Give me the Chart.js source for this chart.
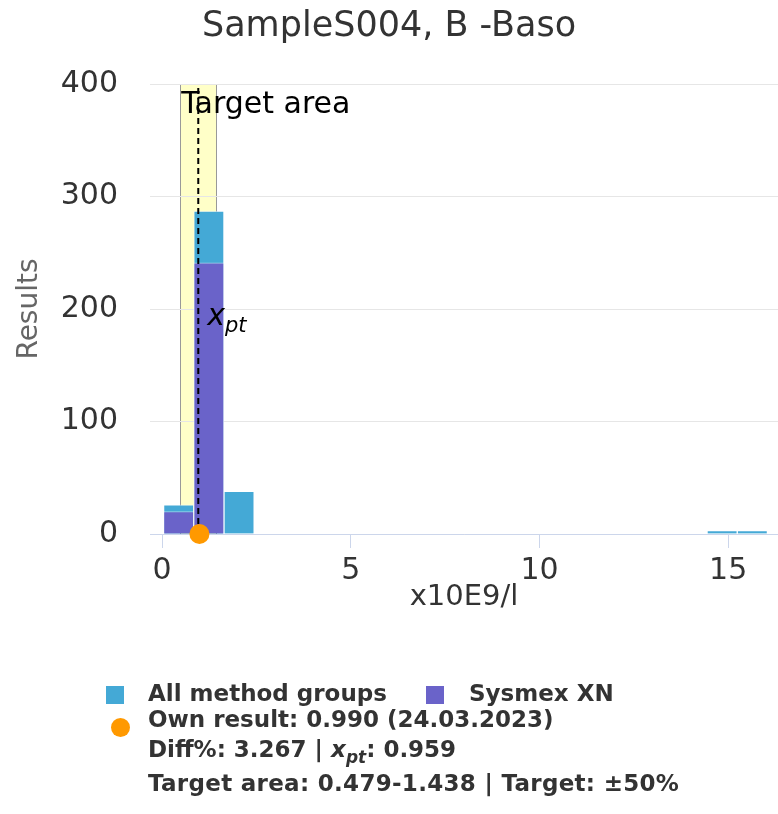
<!DOCTYPE html>
<html>
<head>
<meta charset="utf-8">
<script src="https://cdn.jsdelivr.net/npm/chart.js@4.4.0/dist/chart.umd.min.js"></script>
<style>
  body { margin: 0; background: #fff; }
  #wrap { position: relative; width: 778px; height: 814px; }
  #legend { position: absolute; left: 0; top: 0; font: bold 23px "DejaVu Sans", sans-serif; color: #333; }
  #legend .row { position: absolute; white-space: nowrap; }
  #legend .sq { position: absolute; width: 18px; height: 18px; }
  #legend .dot { position: absolute; width: 19px; height: 19px; border-radius: 50%; background: #ff9900; }
</style>
</head>
<body>
<div id="wrap">
  <canvas id="chart" width="778" height="814"></canvas>
  <div id="legend">
    <div class="sq" style="left:106px;top:686px;background:#44a9d6"></div>
    <div class="row" style="left:148px;top:680px">All method groups</div>
    <div class="sq" style="left:426px;top:686px;background:#6a63c9"></div>
    <div class="row" style="left:469px;top:680px">Sysmex XN</div>
    <div class="dot" style="left:111px;top:718px"></div>
    <div class="row" style="left:148px;top:706px">Own result: 0.990 (24.03.2023)</div>
    <div class="row" style="left:148px;top:736px">Diff%: 3.267 | <i>x<sub style="font-size:17px">pt</sub></i>: 0.959</div>
    <div class="row" style="left:148px;top:770px;letter-spacing:0.3px">Target area: 0.479-1.438 | Target: ±50%</div>
  </div>
</div>
<script>
// histogramm: mitten der klassen (breite 0.8)
const binCenters = [0.44, 1.24, 2.04, 14.84, 15.64];
const allGroups = [26, 287, 38, 3, 3];
const sysmexBins = [0.44, 1.24];
const sysmexXN = [20, 241];
const xTicks = [0, 5, 10, 15];
const yTicks = [0, 100, 200, 300, 400];

const ownResult = 0.990;
const xpt = 0.959;
const targetLow = 0.479;
const targetHigh = 1.438;

const FONT = '"DejaVu Sans", sans-serif';

const zielbereich = {
    id: 'zielbereich',
    beforeDraw(chart) {
        const { ctx, chartArea, scales } = chart;
        const l = scales.x.getPixelForValue(targetLow);
        const r = scales.x.getPixelForValue(targetHigh);
        ctx.save();
        ctx.fillStyle = '#ffffc8';
        ctx.fillRect(l, chartArea.top, r - l, chartArea.bottom - chartArea.top);
        ctx.strokeStyle = '#999999';
        ctx.lineWidth = 1;
        ctx.beginPath();
        ctx.moveTo(Math.round(l) + 0.5, chartArea.top);
        ctx.lineTo(Math.round(l) + 0.5, chartArea.bottom);
        ctx.moveTo(Math.round(r) + 0.5, chartArea.top);
        ctx.lineTo(Math.round(r) + 0.5, chartArea.bottom);
        ctx.stroke();
        ctx.restore();
    },
    afterDatasetsDraw(chart) {
        const { ctx, chartArea, scales } = chart;
        const l = scales.x.getPixelForValue(targetLow);
        const m = scales.x.getPixelForValue(xpt);
        ctx.save();
        ctx.fillStyle = '#000';
        ctx.textBaseline = 'alphabetic';
        ctx.font = '30px ' + FONT;
        ctx.fillText('Target area', l + 1, chartArea.top + 29);
        // x_pt beschriftung
        ctx.font = 'italic 30px ' + FONT;
        ctx.fillText('x', m + 9, chartArea.top + 241);
        const w = ctx.measureText('x').width;
        ctx.font = 'italic 21px ' + FONT;
        ctx.fillText('pt', m + 9 + w, chartArea.top + 248);
        ctx.restore();
    }
};

new Chart(document.getElementById('chart'), {
    type: 'bar',
    data: {
        datasets: [
            {
                type: 'line',
                label: 'Own result',
                data: [{ x: ownResult, y: 0 }],
                showLine: false,
                pointRadius: 10,
                pointBackgroundColor: '#ff9900',
                pointBorderWidth: 0,
                clip: false,
                order: 0
            },
            {
                type: 'line',
                label: 'xpt',
                data: [{ x: xpt, y: 0 }, { x: xpt, y: 400 }],
                borderColor: '#000',
                borderWidth: 2,
                borderDash: [6, 4],
                pointRadius: 0,
                order: 1
            },
            {
                label: 'Sysmex XN',
                data: sysmexBins.map((x, i) => ({ x: x, y: sysmexXN[i] })),
                backgroundColor: '#6a63c9',
                borderColor: 'rgba(255,255,255,0.5)',
                borderWidth: 1,
                grouped: false,
                order: 2
            },
            {
                label: 'All method groups',
                data: binCenters.map((x, i) => ({ x: x, y: allGroups[i] })),
                backgroundColor: '#44a9d6',
                borderColor: 'rgba(255,255,255,0.5)',
                borderWidth: 1,
                grouped: false,
                order: 3
            }
        ]
    },
    options: {
        responsive: false,
        animation: false,
        categoryPercentage: 1,
        barPercentage: 1,
        layout: { autoPadding: false, padding: { left: 0, right: 0, top: 0, bottom: 202 } },
        plugins: {
            legend: { display: false },
            tooltip: { enabled: false },
            title: {
                display: true,
                text: 'SampleS004, B -Baso',
                color: '#333',
                font: { family: FONT, size: 35, weight: 'normal' },
                padding: { top: 6, bottom: 36 }
            }
        },
        scales: {
            x: {
                type: 'linear',
                min: -0.32,
                max: 16.32,
                offset: false,
                afterBuildTicks: (s) => { s.ticks = xTicks.map(v => ({ value: v })); },
                afterFit: (s) => { s.paddingLeft = 0; s.paddingRight = 0; },
                ticks: { color: '#333', font: { family: FONT, size: 30 }, padding: 5 },
                grid: { drawOnChartArea: false, offset: false, color: '#ccd6eb', tickLength: 14 },
                border: { color: '#ccd6eb' },
                title: {
                    display: true,
                    text: 'x10E9/l',
                    color: '#333',
                    font: { family: FONT, size: 29, lineHeight: 1 },
                    padding: { top: -11, bottom: 0 }
                }
            },
            y: {
                min: 0,
                max: 400,
                afterBuildTicks: (s) => { s.ticks = yTicks.map(v => ({ value: v })); },
                afterFit: (s) => { s.width = 150; },
                ticks: { color: '#333', font: { family: FONT, size: 30 }, padding: 32 },
                grid: { color: '#e6e6e6', drawTicks: false },
                border: { display: false },
                title: {
                    display: true,
                    text: 'Results',
                    color: '#666',
                    font: { family: FONT, size: 28, lineHeight: 1.2 },
                    padding: { top: 13, bottom: 0 }
                }
            }
        }
    },
    plugins: [zielbereich]
});
</script>
</body>
</html>
